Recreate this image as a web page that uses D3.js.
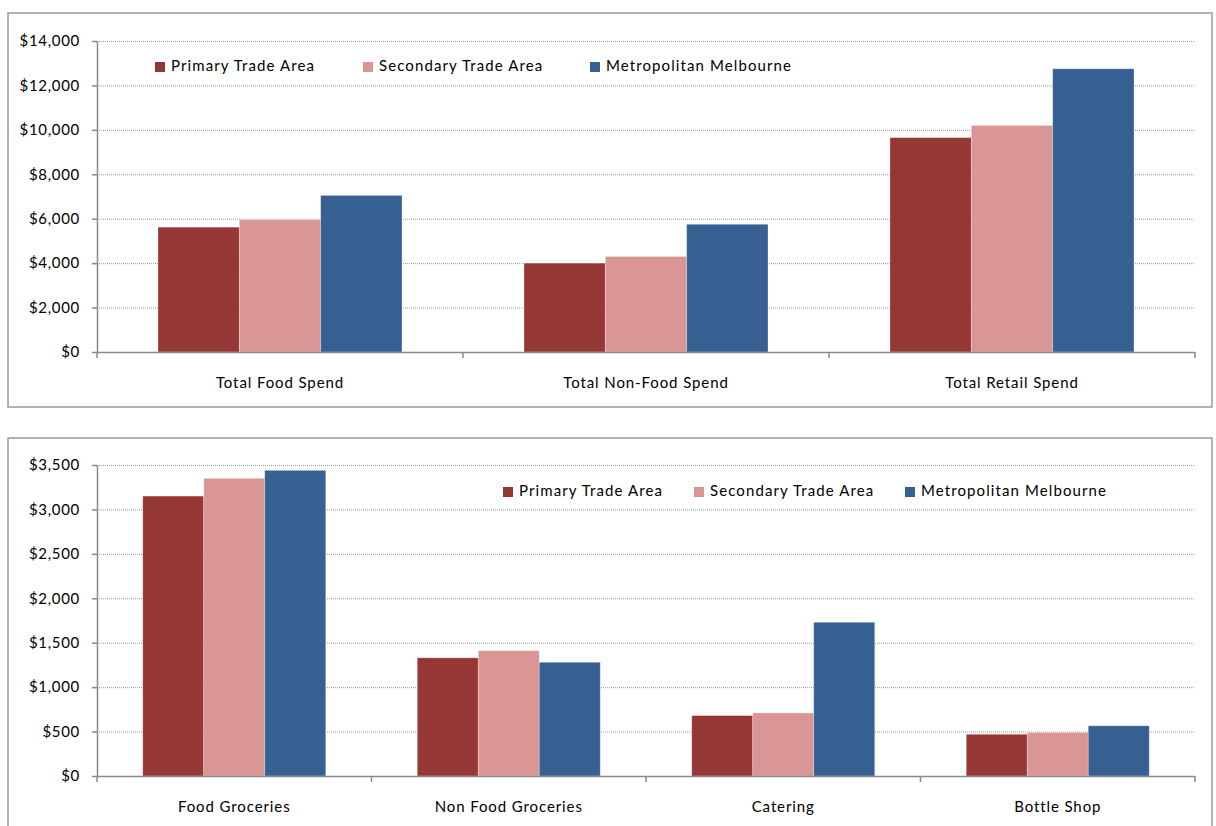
<!DOCTYPE html>
<html>
<head>
<meta charset="utf-8">
<script src="https://cdn.jsdelivr.net/npm/d3@7"></script>
<style>
  body { margin: 0; background: #fff; }
  svg { display: block; font-family: Lato, Carlito, Calibri, sans-serif; }
</style>
</head>
<body>
<svg id="chart" width="1216" height="826"></svg>
<script>
// series names and colours
var seriesNames = ['Primary Trade Area', 'Secondary Trade Area', 'Metropolitan Melbourne'];
var seriesColors = ['#953735', '#d99694', '#376092'];

// top chart
var totalCategories = ['Total Food Spend', 'Total Non-Food Spend', 'Total Retail Spend'];
var totalPrimary = [5620, 4000, 9650];
var totalSecondary = [5950, 4300, 10200];
var totalMetro = [7050, 5750, 12750];
var totalTicks = [0, 2000, 4000, 6000, 8000, 10000, 12000, 14000];

// bottom chart
var detailCategories = ['Food Groceries', 'Non Food Groceries', 'Catering', 'Bottle Shop'];
var detailPrimary = [3150, 1330, 680, 470];
var detailSecondary = [3350, 1410, 710, 490];
var detailMetro = [3440, 1280, 1730, 565];
var detailTicks = [0, 500, 1000, 1500, 2000, 2500, 3000, 3500];

var svg = d3.select('#chart');
var fmt = d3.format(',');

function drawChart(opt) {
  // outer frame
  svg.append('rect')
    .attr('x', opt.box[0]).attr('y', opt.box[1])
    .attr('width', opt.box[2]).attr('height', opt.box[3])
    .attr('fill', '#fff')
    .attr('stroke', '#999').attr('stroke-width', 1.5);

  var g = svg.append('g').attr('transform', 'translate(' + opt.left + ',' + opt.top + ')');
  var w = opt.width, h = opt.height;

  var x0 = d3.scaleBand().domain(opt.categories).range([0, w]).paddingInner(0).paddingOuter(0);
  var y = d3.scaleLinear().domain([0, d3.max(opt.ticks)]).range([h, 0]);

  var groupPad = x0.bandwidth() / 6;
  var x1 = d3.scaleBand().domain(d3.range(seriesNames.length))
    .range([groupPad, x0.bandwidth() - groupPad]);

  // gridlines
  g.selectAll('.grid').data(opt.ticks.slice(1)).enter().append('line')
    .attr('x1', 0).attr('x2', w)
    .attr('y1', function(d) { return y(d) + 0.5; })
    .attr('y2', function(d) { return y(d) + 0.5; })
    .attr('stroke', '#999').attr('stroke-width', 1)
    .attr('stroke-dasharray', '1,1');

  // bars
  var rows = opt.categories.map(function(c, i) {
    return opt.series.map(function(s) { return s[i]; });
  });
  var groups = g.selectAll('.grp').data(rows).enter().append('g')
    .attr('transform', function(d, i) { return 'translate(' + x0(opt.categories[i]) + ',0)'; });
  groups.selectAll('rect').data(function(d) { return d; }).enter().append('rect')
    .attr('x', function(d, i) { return x1(i); })
    .attr('width', x1.bandwidth())
    .attr('y', function(d) { return y(d); })
    .attr('height', function(d) { return h - y(d); })
    .attr('fill', function(d, i) { return seriesColors[i]; })
    .attr('stroke', 'rgba(255,255,255,0.35)').attr('stroke-width', 0.8);

  // y axis
  var ya = g.append('g')
    .call(d3.axisLeft(y).tickValues(opt.ticks).tickSize(5).tickPadding(12)
      .tickFormat(function(d) { return '$' + fmt(d); }));
  ya.select('.domain').attr('stroke', '#888').attr('stroke-width', 1.5).attr('d', 'M0.5,0V' + h);
  ya.selectAll('.tick line').attr('stroke', '#888').attr('stroke-width', 1.5);
  ya.selectAll('.tick text').attr('font-size', 15).attr('fill', '#000')
    .attr('font-family', 'Lato, sans-serif').attr('letter-spacing', 0.7);

  // x axis
  var boundaries = opt.categories.map(function(c) { return x0(c); }).concat([w]);
  var xa = g.append('g').attr('transform', 'translate(0,' + h + ')');
  xa.append('line').attr('x1', 0).attr('x2', w).attr('y1', 0.5).attr('y2', 0.5)
    .attr('stroke', '#888').attr('stroke-width', 1.5);
  xa.selectAll('.xt').data(boundaries).enter().append('line')
    .attr('x1', function(d) { return d; }).attr('x2', function(d) { return d; })
    .attr('y1', 0).attr('y2', 6)
    .attr('stroke', '#888').attr('stroke-width', 1.5);
  xa.selectAll('.xl').data(opt.categories).enter().append('text')
    .attr('x', function(d) { return x0(d) + x0.bandwidth() / 2; })
    .attr('y', opt.labelDy)
    .attr('text-anchor', 'middle')
    .attr('font-size', 15).attr('fill', '#000').attr('letter-spacing', 0.9)
    .text(function(d) { return d; });

  // legend
  var leg = svg.append('g');
  seriesNames.forEach(function(name, i) {
    leg.append('rect')
      .attr('x', opt.legendX[i]).attr('y', opt.legendY - 9)
      .attr('width', 10).attr('height', 10)
      .attr('fill', seriesColors[i]);
    leg.append('text')
      .attr('x', opt.legendX[i] + 16).attr('y', opt.legendY)
      .attr('font-size', 15).attr('fill', '#000').attr('letter-spacing', 1.1)
      .text(name);
  });
}

drawChart({
  box: [8, 13, 1204, 394],
  left: 97, top: 41, width: 1098, height: 311,
  categories: totalCategories,
  series: [totalPrimary, totalSecondary, totalMetro],
  ticks: totalTicks,
  labelDy: 36,
  legendX: [155, 363, 590], legendY: 71
});

drawChart({
  box: [8, 438, 1204, 400],
  left: 97, top: 465, width: 1098, height: 311,
  categories: detailCategories,
  series: [detailPrimary, detailSecondary, detailMetro],
  ticks: detailTicks,
  labelDy: 36,
  legendX: [503, 694, 905], legendY: 496
});
</script>
</body>
</html>
